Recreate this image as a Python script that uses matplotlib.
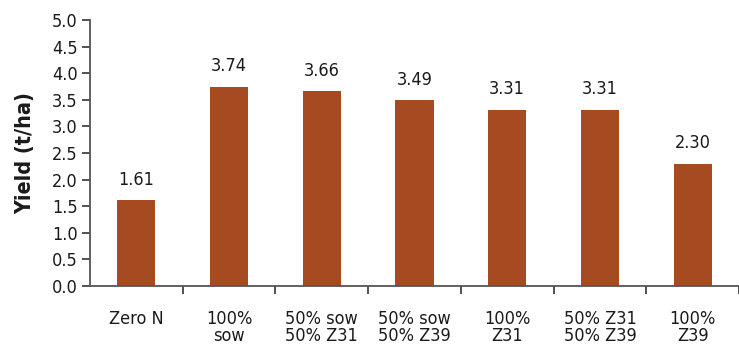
import numpy as np
import matplotlib.pyplot as plt

categories = ['Zero N', '100%\nsow', '50% sow\n50% Z31', '50% sow\n50% Z39',
              '100%\nZ31', '50% Z31\n50% Z39', '100%\nZ39']
yields = [1.61, 3.74, 3.66, 3.49, 3.31, 3.31, 2.30]
value_labels = ['1.61', '3.74', '3.66', '3.49', '3.31', '3.31', '2.30']
yticks = np.arange(0, 5.01, 0.5)

plt.rcParams['font.family'] = ['DejaVu Sans']
plt.rcParams['font.stretch'] = 'condensed'

fig = plt.figure(figsize=(7.39, 3.45), dpi=100)
ax = fig.add_axes([90 / 739, 1 - 286 / 345, 649 / 739, 266 / 345])

x = np.arange(len(categories))
ax.bar(x, yields, width=0.41, color='#A64B21')

for xi, v, lab in zip(x, yields, value_labels):
    ax.text(xi, v + 0.22, lab, ha='center', va='bottom', fontsize=13, color='#1a1a1a')

ax.set_xlim(-0.5, len(categories) - 0.5)
ax.set_ylim(0, 5.0)
ax.set_yticks(yticks)
ax.set_yticklabels([f'{t:.1f}' for t in yticks], fontsize=13, color='#1a1a1a')
ax.set_xticks(x)
ax.set_xticklabels(categories, fontsize=13, linespacing=0.95, color='#1a1a1a')
ax.set_xticks(np.arange(len(categories)) + 0.5, minor=True)
ax.tick_params(axis='x', which='major', length=0, pad=17)
ax.tick_params(axis='x', which='minor', length=6, width=1.2, color='#333333', direction='out')
ax.tick_params(axis='y', length=6, width=1.2, color='#333333', direction='out', pad=3)

ax.set_ylabel('Yield (t/ha)', fontsize=15.5, fontweight='bold', labelpad=12, color='#1a1a1a')

for s in ['top', 'right']:
    ax.spines[s].set_visible(False)
for s in ['left', 'bottom']:
    ax.spines[s].set_color('#555555')
    ax.spines[s].set_linewidth(1.3)

fig.savefig('out.png', dpi=100)
